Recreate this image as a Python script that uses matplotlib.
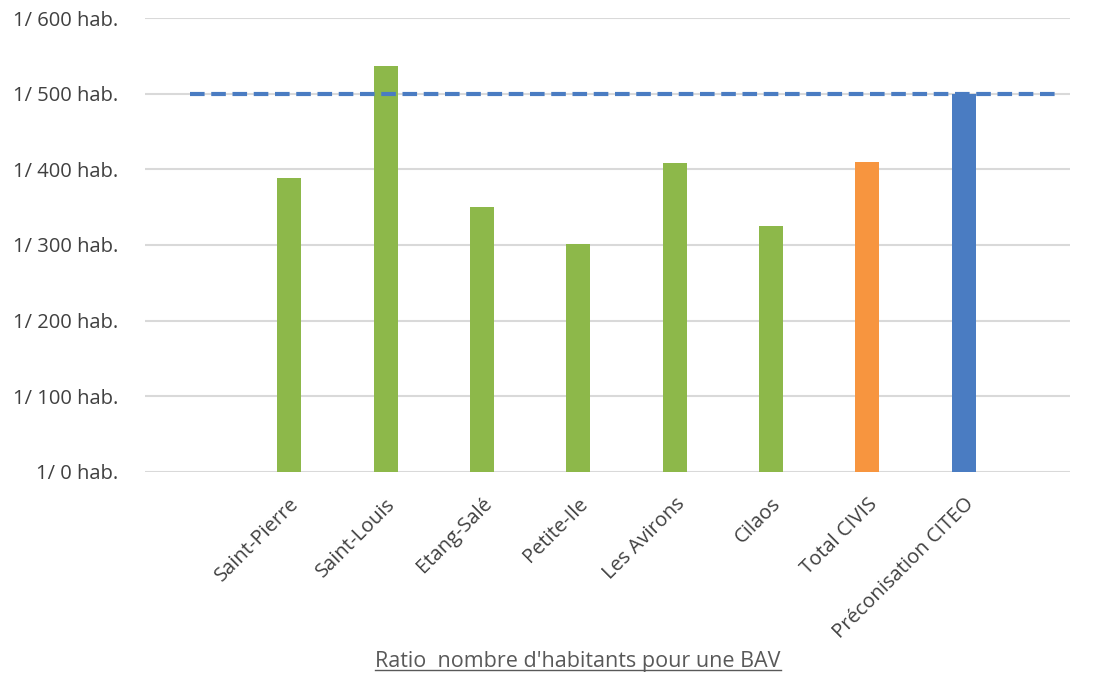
import matplotlib
matplotlib.use("Agg")
import matplotlib.pyplot as plt
from matplotlib.lines import Line2D

# data
communes = ["Saint-Pierre", "Saint-Louis", "Etang-Salé", "Petite-Ile",
            "Les Avirons", "Cilaos", "Total CIVIS", "Préconisation CITEO"]
habitants_par_bav = [388, 536, 350, 301, 409, 325, 410, 500]
bar_colors = ["#8DB84A"] * 6 + ["#F7953F", "#4A7CC2"]
preconisation = 500
y_ticks = [0, 100, 200, 300, 400, 500, 600]
y_labels = [f"1/ {v} hab." for v in y_ticks]

plt.rcParams["font.family"] = ["Open Sans", "DejaVu Sans"]
text_color = "#404040"

fig = plt.figure(figsize=(11.05, 6.8), dpi=100)
ax = fig.add_axes([0.131, 0.306, 0.837, 0.6675])

x = list(range(len(communes)))
ax.bar(x, habitants_par_bav, width=0.25, color=bar_colors, zorder=2)

# dashed recommendation line across the categories
ax.hlines(preconisation, -1.03, 7.95, colors="#4A7CC2", linestyles=(0, (3.5, 1.6)),
          linewidth=3.0, zorder=3)

ax.set_xlim(-1.5, 8.1)
ax.set_ylim(0, 600)
ax.set_yticks(y_ticks)
ax.set_yticklabels(y_labels, fontsize=14.5, color=text_color)
ax.set_xticks(x)
ax.set_xticklabels(communes, rotation=45, ha="right", rotation_mode="anchor",
                   fontsize=14.5, color=text_color)
ax.tick_params(axis="y", length=0, pad=19)
ax.tick_params(axis="x", length=0, pad=16)
ax.yaxis.grid(True, color="#D9D9D9", linewidth=1.5, zorder=0)
for s in ax.spines.values():
    s.set_visible(False)

title = fig.text(0.523, 0.012, "Ratio  nombre d'habitants pour une BAV",
                 ha="center", va="bottom", fontsize=15.5, color="#595959")

# underline the caption
fig.canvas.draw()
bb = title.get_window_extent().transformed(fig.transFigure.inverted())
fig.add_artist(Line2D([bb.x0, bb.x1], [bb.y0 + 0.002, bb.y0 + 0.002],
                      transform=fig.transFigure, color="#595959", linewidth=1))

fig.savefig("out.png", dpi=100)
